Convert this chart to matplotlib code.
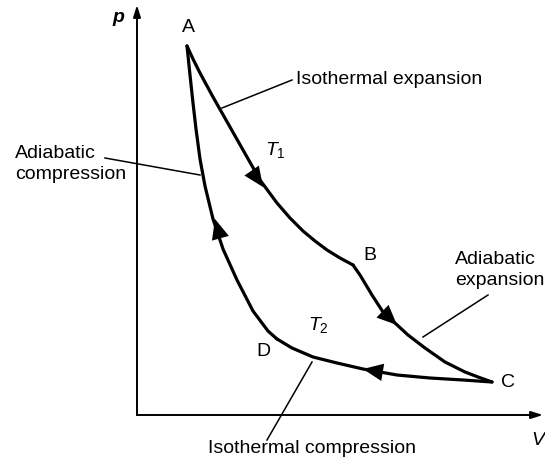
import matplotlib
matplotlib.use("Agg")
import matplotlib.pyplot as plt
from matplotlib.patches import FancyArrowPatch

plt.rcParams['font.family'] = ['Liberation Sans', 'DejaVu Sans']
plt.rcParams['mathtext.fontset'] = 'custom'
plt.rcParams['mathtext.rm'] = 'Liberation Sans'
plt.rcParams['mathtext.it'] = 'Liberation Sans:italic'

# cycle branches (V, p)
ab_v = [50, 56, 63, 76, 93, 110, 123, 140, 153, 166, 178, 190, 203, 216]
ab_p = [369, 356, 342, 318, 288, 258, 235, 212, 197, 184, 174, 165, 157, 150]
bc_v = [216, 223, 235, 246, 258, 271, 288, 308, 328, 341, 355]
bc_p = [150, 140, 120, 103, 92, 80, 67, 53, 43, 38, 33]
cd_v = [355, 326, 293, 260, 226, 200, 176, 155, 140]
cd_p = [33, 35, 37, 40, 46, 52, 58, 67, 76]
da_v = [140, 131, 116, 100, 86, 76, 68, 63, 59, 56, 53, 50]
da_p = [76, 84, 104, 135, 166, 196, 229, 256, 286, 312, 340, 369]

# direction arrows: (V, p, dV, dp)
arrows = [(126, 228, 1.0, -1.45), (260, 90, 1.0, -0.95),
          (226, 46, -1.0, 0.17), (78, 196, -0.28, 1.0)]

points = ['A', 'B', 'C', 'D']
point_v = [51, 233, 371, 126]
point_p = [387, 160, 33, 63]

fig = plt.figure(figsize=(5.45, 4.65), dpi=100)
ax = fig.add_axes([0, 0, 1, 1])
ax.set_xlim(-137, 408)
ax.set_ylim(-50, 415)
ax.axis('off')

# axes with arrows
ax.annotate('', xy=(0, 410), xytext=(0, 0),
            arrowprops=dict(arrowstyle='-|>,head_length=0.7,head_width=0.22',
                            lw=1.4, color='black', shrinkA=0, shrinkB=0))
ax.annotate('', xy=(406, 0), xytext=(0, 0),
            arrowprops=dict(arrowstyle='-|>,head_length=0.7,head_width=0.22',
                            lw=1.4, color='black', shrinkA=0, shrinkB=0),
            annotation_clip=False)
ax.text(-19, 397, 'p', fontsize=14, fontstyle='italic', fontweight='bold',
        ha='center', va='center')
ax.text(394, -25, 'V', fontsize=14, fontstyle='italic', ha='left', va='center')

for vs, ps in [(ab_v, ab_p), (bc_v, bc_p), (cd_v, cd_p), (da_v, da_p)]:
    ax.plot(vs, ps, color='black', lw=2.3, solid_joinstyle='round',
            solid_capstyle='round')

for v, p, dv, dp in arrows:
    arr = FancyArrowPatch((v - dv * 0.01, p - dp * 0.01), (v + dv * 0.01, p + dp * 0.01),
                          arrowstyle='-|>,head_length=0.8,head_width=0.35',
                          mutation_scale=18, color='black', lw=0, shrinkA=0, shrinkB=0)
    ax.add_patch(arr)

for name, v, p in zip(points, point_v, point_p):
    ax.text(v, p, name, fontsize=14, ha='center', va='center')

ax.text(138, 265, r'$T_1$', fontsize=14, ha='center', va='center')
ax.text(181, 90, r'$T_2$', fontsize=14, ha='center', va='center')

# labels with leader lines
ax.text(159, 336, 'Isothermal expansion', fontsize=14, ha='left', va='center')
ax.plot([85, 155], [307, 335], color='black', lw=1.1)

ax.text(-122, 251, 'Adiabatic\ncompression', fontsize=14, ha='left', va='center',
        linespacing=1.25)
ax.plot([-32, 63], [257, 240], color='black', lw=1.1)

ax.text(318, 145, 'Adiabatic\nexpansion', fontsize=14, ha='left', va='center',
        linespacing=1.25, clip_on=False)
ax.plot([351, 286], [120, 78], color='black', lw=1.1)

ax.text(71, -33, 'Isothermal compression', fontsize=14, ha='left', va='center')
ax.plot([175, 130], [53, -25], color='black', lw=1.1)

fig.savefig('out.png', dpi=100)
